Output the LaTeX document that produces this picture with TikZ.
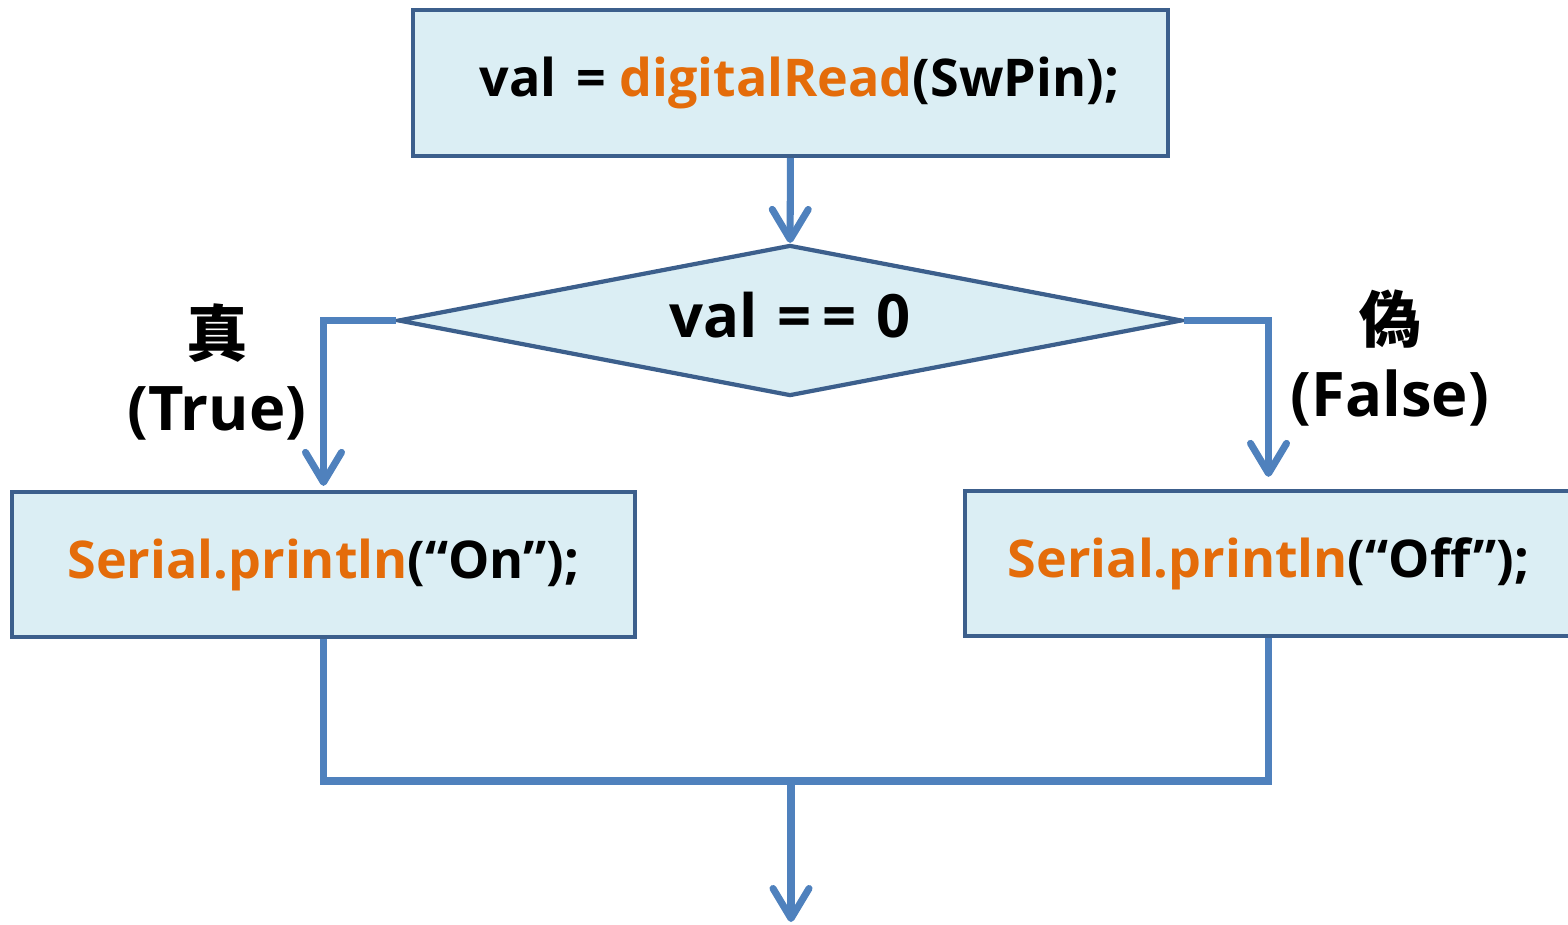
\documentclass[tikz,border=0pt]{standalone}
\usepackage{fontspec}
\setmainfont{Open Sans}
\newfontfamily\cjk{Noto Sans CJK TC}
\usepackage{tikz}
\usetikzlibrary{shapes.geometric,arrows.meta,positioning,calc}
\definecolor{boxfill}{RGB}{219,238,244}
\definecolor{boxline}{RGB}{60,95,140}
\definecolor{flowblue}{RGB}{79,129,189}
\definecolor{fnorange}{RGB}{228,108,10}
\newcommand{\fn}[1]{\textcolor{fnorange}{#1}}

\begin{document}
\begin{tikzpicture}[
    box/.style={draw=boxline, line width=1.2pt, fill=boxfill, inner sep=0pt,
        font=\fontsize{14.8}{18}\selectfont\bfseries},
    decision/.style={diamond, draw=boxline, line width=1.2pt, fill=boxfill,
        inner sep=0pt, aspect=5.2, minimum width=7.84cm, minimum height=1.51cm,
        font=\fontsize{17}{20}\selectfont\bfseries},
    flow/.style={draw=flowblue, line width=2pt,
        -{Straight Barb[length=3mm,width=3.6mm,line cap=round,line join=round]}},
    wire/.style={draw=flowblue, line width=2pt},
    branch/.style={font=\fontsize{17.5}{21}\selectfont\bfseries, align=center}
]
    \useasboundingbox (0,0) rectangle (15.68,-9.24);

    % process boxes
    \node [box, minimum width=7.55cm, minimum height=1.46cm] (read) at (7.905,-0.83)
        {\hspace{0.18cm}val\hspace{0.06cm} = \fn{digitalRead}(SwPin);};
    \node [decision] (test) at (7.90,-3.205)
        {\raisebox{0.12cm}{val\hspace{0.2cm}=\hspace{0.11cm}=\hspace{0.2cm}0}};
    \node [box, minimum width=6.23cm, minimum height=1.45cm] (on) at (3.235,-5.645)
        {\fn{Serial.println}(“On”);};
    \node [box, minimum width=6.07cm, minimum height=1.45cm] (off) at (12.685,-5.635)
        {\fn{Serial.println}(“Off”);};

    % branch labels
    \node [branch] (yes) at (2.17,-3.72) {{\cjk\bfseries 真}\\(True)};
    \node [branch] (no) at (13.90,-3.58) {{\cjk\bfseries 偽}\\(False)};

    % connectors
    \coordinate (join) at (7.91,-7.81);
    \coordinate (out) at (7.91,-9.22);
    \draw [flow] (read) -- (test);
    \draw [flow, shorten >=0.04cm] (test.west) -| (on.north);
    \draw [flow, shorten >=0.12cm] (test.east) -| (off.north);
    \draw [wire] (on.south) |- (join) -| (off.south);
    \draw [flow] (join) -- (out);
\end{tikzpicture}
\end{document}
